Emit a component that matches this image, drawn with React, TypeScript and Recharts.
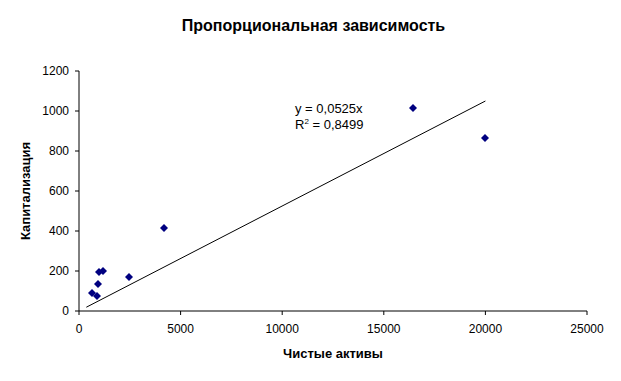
import { ScatterChart, Scatter, XAxis, YAxis, ReferenceLine, Label } from "recharts";

// Чистые активы (x) and Капитализация (y)
const netAssets = [640, 886, 935, 984, 1181, 2461, 4183, 16437, 19980];
const capitalization = [90, 75, 135, 195, 200, 170, 415, 1015, 865];

const xTicks = [0, 5000, 10000, 15000, 20000, 25000];
const yTicks = [0, 200, 400, 600, 800, 1000, 1200];

// trendline y = 0,0525x drawn over the data range
const slope = 0.0525;
const trendFrom = 360;
const trendTo = 20000;

const data = netAssets.map((x, i) => ({ x, y: capitalization[i] }));

const font = "'Liberation Sans', Arial, sans-serif";

const Diamond = (props: any) => {
  const { cx, cy } = props;
  const r = 4;
  return (
    <polygon
      points={`${cx},${cy - r} ${cx + r},${cy} ${cx},${cy + r} ${cx - r},${cy}`}
      fill="#000080"
    />
  );
};

const App = () => {
  return (
    <div style={{ position: "absolute", left: 0, top: 0, width: 621, height: 381, background: "#fff", fontFamily: font }}>
      <div style={{ position: "absolute", left: 0, top: 17, width: 621, paddingLeft: 3, textAlign: "center", fontSize: 16, fontWeight: "bold" }}>
        Пропорциональная зависимость
      </div>
      <div style={{ position: "absolute", left: 295, top: 101, fontSize: 13, lineHeight: "16px" }}>
        <div>y = 0,0525x</div>
        <div>
          R<sup style={{ fontSize: 8, verticalAlign: "top", lineHeight: "10px" }}>2</sup> = 0,8499
        </div>
      </div>
      <ScatterChart width={621} height={381} margin={{ top: 71, right: 34, bottom: 0, left: 0 }}>
        <XAxis
          type="number"
          dataKey="x"
          domain={[0, 25000]}
          ticks={xTicks}
          height={70}
          tickSize={4}
          tickMargin={9}
          stroke="#000"
          tick={{ fill: "#000", fontSize: 12, fontFamily: font }}
        >
          <Label value="Чистые активы" position="insideBottom" offset={23} style={{ fontWeight: "bold", fontSize: 13, fill: "#000", fontFamily: font }} />
        </XAxis>
        <YAxis
          type="number"
          dataKey="y"
          domain={[0, 1200]}
          ticks={yTicks}
          width={79}
          tickSize={4}
          tickMargin={6}
          stroke="#000"
          tick={{ fill: "#000", fontSize: 12, fontFamily: font }}
        >
          <Label
            value="Капитализация"
            angle={-90}
            position="insideLeft"
            offset={25}
            style={{ textAnchor: "middle", fontWeight: "bold", fontSize: 13, fill: "#000", fontFamily: font }}
          />
        </YAxis>
        <ReferenceLine
          segment={[
            { x: trendFrom, y: slope * trendFrom },
            { x: trendTo, y: slope * trendTo },
          ]}
          stroke="#000"
          strokeWidth={1}
        />
        <Scatter data={data} shape={<Diamond />} isAnimationActive={false} />
      </ScatterChart>
    </div>
  );
};

export default App;
